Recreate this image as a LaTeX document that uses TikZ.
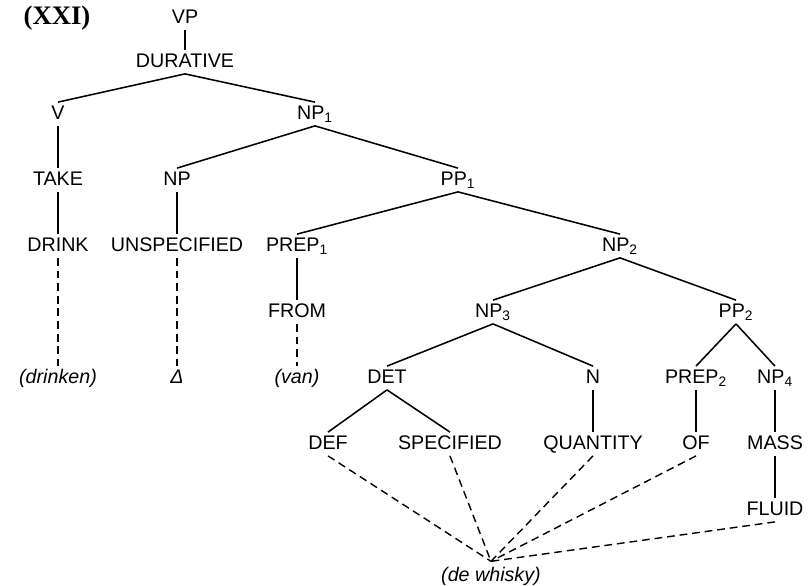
\documentclass[tikz,border=0pt]{standalone}
\usepackage{fontspec}
\setmainfont{Liberation Sans}
\newfontfamily\romanfont{Liberation Serif}
\usepackage{tikz}
\usetikzlibrary{positioning}

\begin{document}
\begin{tikzpicture}[node distance=1.65cm]
	\tikzstyle{cat} = [text centered, inner sep=1.5pt, text height=10.5pt, text depth=3pt, font=\fontsize{14}{16}\selectfont]
	\tikzstyle{leaf} = [cat, font=\fontsize{14}{16}\selectfont\itshape]
	\tikzstyle{branch} = [line width=1.1pt]
	\tikzstyle{link} = [line width=1pt, dash pattern=on 5.5pt off 3.5pt]

	\useasboundingbox (-4.625,-14.175) rectangle (15.65,0.45);

	\node (num) at (-3.2,0) [font=\romanfont\bfseries\fontsize{19}{21}\selectfont] {(XXI)};
	\node (vp) at (0,0) [cat] {VP};
	\node (durative) [cat, below of=vp, yshift=0.55cm] {DURATIVE};
	\node (v) [cat, below of=durative, xshift=-3.175cm, yshift=0.35cm] {V};
	\node (np1) [cat, below of=durative, xshift=3.25cm, yshift=0.35cm] {NP\textsubscript{1}};
	\node (take) [cat, below of=v] {TAKE};
	\node (np) [cat, below of=np1, xshift=-3.45cm] {NP};
	\node (pp1) [cat, below of=np1, xshift=3.575cm] {PP\textsubscript{1}};
	\node (drink) [cat, below of=take] {DRINK};
	\node (unspec) [cat, below of=np] {UNSPECIFIED};
	\node (prep1) [cat, below of=pp1, xshift=-4.025cm] {PREP\textsubscript{1}};
	\node (np2) [cat, below of=pp1, xshift=4.05cm] {NP\textsubscript{2}};
	\node (from) [cat, below of=prep1] {FROM};
	\node (np3) [cat, below of=np2, xshift=-3.175cm] {NP\textsubscript{3}};
	\node (pp2) [cat, below of=np2, xshift=2.9cm] {PP\textsubscript{2}};
	\node (drinken) [leaf, below of=drink, yshift=-1.65cm] {(drinken)};
	\node (delta) [leaf, below of=unspec, yshift=-1.65cm] {Δ};
	\node (van) [leaf, below of=from] {(van)};
	\node (det) [cat, below of=np3, xshift=-2.65cm] {DET};
	\node (n) [cat, below of=np3, xshift=2.5cm] {N};
	\node (prep2) [cat, below of=pp2, xshift=-1cm] {PREP\textsubscript{2}};
	\node (np4) [cat, below of=pp2, xshift=0.975cm] {NP\textsubscript{4}};
	\node (def) [cat, below of=det, xshift=-1.475cm] {DEF};
	\node (specified) [cat, below of=det, xshift=1.575cm] {SPECIFIED};
	\node (quantity) [cat, below of=n] {QUANTITY};
	\node (of) [cat, below of=prep2] {OF};
	\node (mass) [cat, below of=np4] {MASS};
	\node (fluid) [cat, below of=mass] {FLUID};
	\node (whisky) [leaf, below of=fluid, xshift=-7.1cm] {(de whisky)};
	\coordinate (meet) at ([yshift=2pt]whisky.north);

	\draw [branch] (vp.south) -- (durative.north);
	\draw [branch] (durative.south) -- (v.north);
	\draw [branch] (durative.south) -- (np1.north);
	\draw [branch] (v.south) -- (take.north);
	\draw [branch] (take.south) -- (drink.north);
	\draw [branch] (np1.south) -- (np.north);
	\draw [branch] (np1.south) -- (pp1.north);
	\draw [branch] (np.south) -- (unspec.north);
	\draw [branch] (pp1.south) -- (prep1.north);
	\draw [branch] (pp1.south) -- (np2.north);
	\draw [branch] (prep1.south) -- (from.north);
	\draw [branch] (np2.south) -- (np3.north);
	\draw [branch] (np2.south) -- (pp2.north);
	\draw [branch] (np3.south) -- (det.north);
	\draw [branch] (np3.south) -- (n.north);
	\draw [branch] (pp2.south) -- (prep2.north);
	\draw [branch] (pp2.south) -- (np4.north);
	\draw [branch] (det.south) -- (def.north);
	\draw [branch] (det.south) -- (specified.north);
	\draw [branch] (n.south) -- (quantity.north);
	\draw [branch] (prep2.south) -- (of.north);
	\draw [branch] (np4.south) -- (mass.north);
	\draw [branch] (mass.south) -- (fluid.north);

	\draw [link] (drink.south) -- (drinken.north);
	\draw [link] (unspec.south) -- (delta.north);
	\draw [link] (from.south) -- (van.north);
	\draw [link] (def.south) -- (meet);
	\draw [link] (specified.south) -- (meet);
	\draw [link] (quantity.south) -- (meet);
	\draw [link] (of.south) -- (meet);
	\draw [link] (fluid.south) -- (meet);

\end{tikzpicture}
\end{document}
